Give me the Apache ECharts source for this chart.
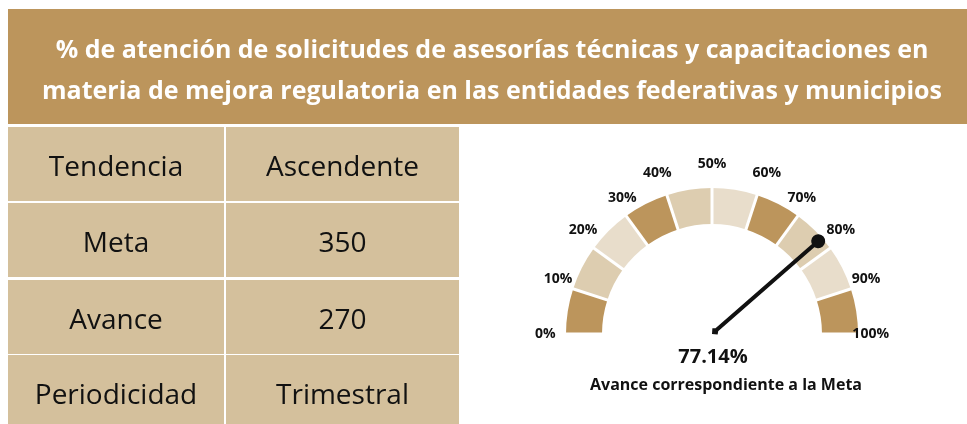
<!DOCTYPE html>
<html>
<head>
<meta charset="utf-8">
<script src="https://cdn.jsdelivr.net/npm/echarts@6/dist/echarts.min.js"></script>
<style>
  html, body { margin: 0; padding: 0; background: #ffffff; }
  #main { width: 967px; height: 424px; }
</style>
</head>
<body>
<div id="main"></div>
<script>
// datos del indicador
var titleLines = [
  '% de atención de solicitudes de asesorías técnicas y capacitaciones en',
  'materia de mejora regulatoria en las entidades federativas y municipios'
];
var rowLabels = ['Tendencia', 'Meta', 'Avance', 'Periodicidad'];
var rowValues = ['Ascendente', '350', '270', 'Trimestral'];
var meta = 350;
var avance = 270;
var gaugeCaption = 'Avance correspondiente a la Meta';
// colores de los 10 segmentos del velocimetro (0-10%, 10-20%, ...)
var segmentColors = ['#bc955c', '#ddcdb0', '#e8ddcb', '#bc955c', '#ddcdb0',
                     '#e8ddcb', '#bc955c', '#ddcdb0', '#e8ddcb', '#bc955c'];

var FONT = '"Open Sans", "Noto Sans", sans-serif';
var chart = echarts.init(document.getElementById('main'), null, { renderer: 'canvas' });

var pct = Math.round(avance / meta * 10000) / 100;

/** fondo de la cabecera y tabla */
var graphics = [];
graphics.push({
  type: 'rect',
  shape: { x: 8, y: 9, width: 959, height: 115 },
  style: { fill: '#bc955c' }
});
titleLines.forEach(function (t, i) {
  graphics.push({
    type: 'text',
    x: 492, y: 51 + i * 41,
    style: {
      text: t, fill: '#ffffff', font: 'bold 25px ' + FONT,
      textAlign: 'center', textVerticalAlign: 'middle'
    }
  });
});

var rowTops = [127, 203, 280, 355];
var rowH = 74;
var cols = [[8, 216], [226, 233]];
rowLabels.forEach(function (lab, i) {
  var vals = [lab, rowValues[i]];
  cols.forEach(function (c, j) {
    graphics.push({
      type: 'rect',
      shape: { x: c[0], y: rowTops[i], width: c[1], height: rowH },
      style: { fill: '#d4c09c' }
    });
    graphics.push({
      type: 'text',
      x: c[0] + c[1] / 2, y: rowTops[i] + rowH / 2 + 4,
      style: {
        text: vals[j], fill: '#111111', font: '28px ' + FONT,
        textAlign: 'center', textVerticalAlign: 'middle'
      }
    });
  });
});

// aguja: punto en la punta, varilla y rombo en la base
var needlePath = 'path://M0,7 A7,7 0 1,1 14,7 A7,7 0 1,1 0,7 Z' +
  'M5,7 L9,7 L9,142 L5,142 Z M7,139 L11,144 L7,148 L3,144 Z';

var option = {
  backgroundColor: '#ffffff',
  animation: false,
  graphic: graphics,
  series: [{
    type: 'gauge',
    center: [712, 334],
    radius: 146,
    startAngle: 180,
    endAngle: 0,
    min: 0,
    max: 100,
    splitNumber: 10,
    axisLine: {
      lineStyle: {
        width: 36,
        color: segmentColors.map(function (c, i) { return [(i + 1) / 10, c]; })
      }
    },
    splitLine: {
      distance: -38,
      length: 40,
      lineStyle: { color: '#ffffff', width: 3 }
    },
    axisTick: { show: false },
    axisLabel: {
      distance: -33,
      formatter: '{value}%',
      color: '#111111',
      fontFamily: FONT,
      fontWeight: 'bold',
      fontSize: 14,
      align: 'center',
      verticalAlign: 'middle'
    },
    pointer: {
      icon: needlePath,
      length: 148,
      width: 14,
      offsetCenter: [0, 0],
      itemStyle: { color: '#111111' }
    },
    anchor: { show: false },
    title: {
      offsetCenter: [14, 51],
      color: '#111111',
      fontFamily: FONT,
      fontWeight: 'bold',
      fontSize: 16
    },
    detail: {
      offsetCenter: [1, 23],
      formatter: function (v) { return v.toFixed(2) + '%'; },
      color: '#111111',
      fontFamily: FONT,
      fontWeight: 'bold',
      fontSize: 20
    },
    data: [{ value: pct, name: gaugeCaption }]
  }]
};

chart.setOption(option);
</script>
</body>
</html>
